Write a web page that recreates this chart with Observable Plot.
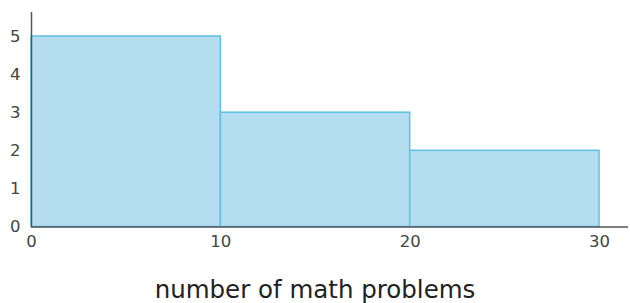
<!DOCTYPE html>
<html>
<head>
<meta charset="utf-8">
<script src="https://cdn.jsdelivr.net/npm/d3@7"></script>
<script src="https://cdn.jsdelivr.net/npm/@observablehq/plot@0.6"></script>
<style>
  html, body { margin: 0; padding: 0; background: #fff; }
  #chart svg { display: block; }
</style>
</head>
<body>
<div id="chart"></div>
<script>
const binStarts = [0, 10, 20];
const binEnds = [10, 20, 30];
const counts = [5, 3, 2];
const xTicks = [0, 10, 20, 30];
const yTicks = [0, 1, 2, 3, 4, 5];
const xLabel = "number of math problems";

const bins = binStarts.map((s, i) => ({x1: s, x2: binEnds[i], y: counts[i]}));

const font = "'DejaVu Sans', 'Open Sans', sans-serif";

const chart = Plot.plot({
  width: 630,
  height: 303,
  marginLeft: 31,
  marginRight: 2,
  marginTop: 12,
  marginBottom: 76.5,
  style: {fontFamily: font, background: "#fff"},
  x: {domain: [0, 31.53], label: null},
  y: {domain: [0, 5.63], label: null},
  marks: [
    Plot.rectY(bins, {x1: "x1", x2: "x2", y: "y", fill: "#b4ddef", stroke: "#62bfe4", strokeWidth: 1.5, inset: 0}),
    Plot.axisX({ticks: xTicks, tickSize: 0, tickPadding: 8, fontSize: 16.5, fill: "#444", tickFormat: "d", label: null}),
    Plot.axisY({ticks: yTicks, tickSize: 0, tickPadding: 11, fontSize: 16.5, fill: "#444", tickFormat: "d", label: null}),
    Plot.ruleY([0], {stroke: "#555", strokeWidth: 1.5}),
    Plot.ruleX([0], {stroke: "#555", strokeWidth: 1.5}),
    Plot.text([xLabel], {frameAnchor: "bottom", dy: 71, dx: -15, fontSize: 24.5, fill: "#222", text: d => d})
  ]
});
document.getElementById("chart").appendChild(chart);
</script>
</body>
</html>
